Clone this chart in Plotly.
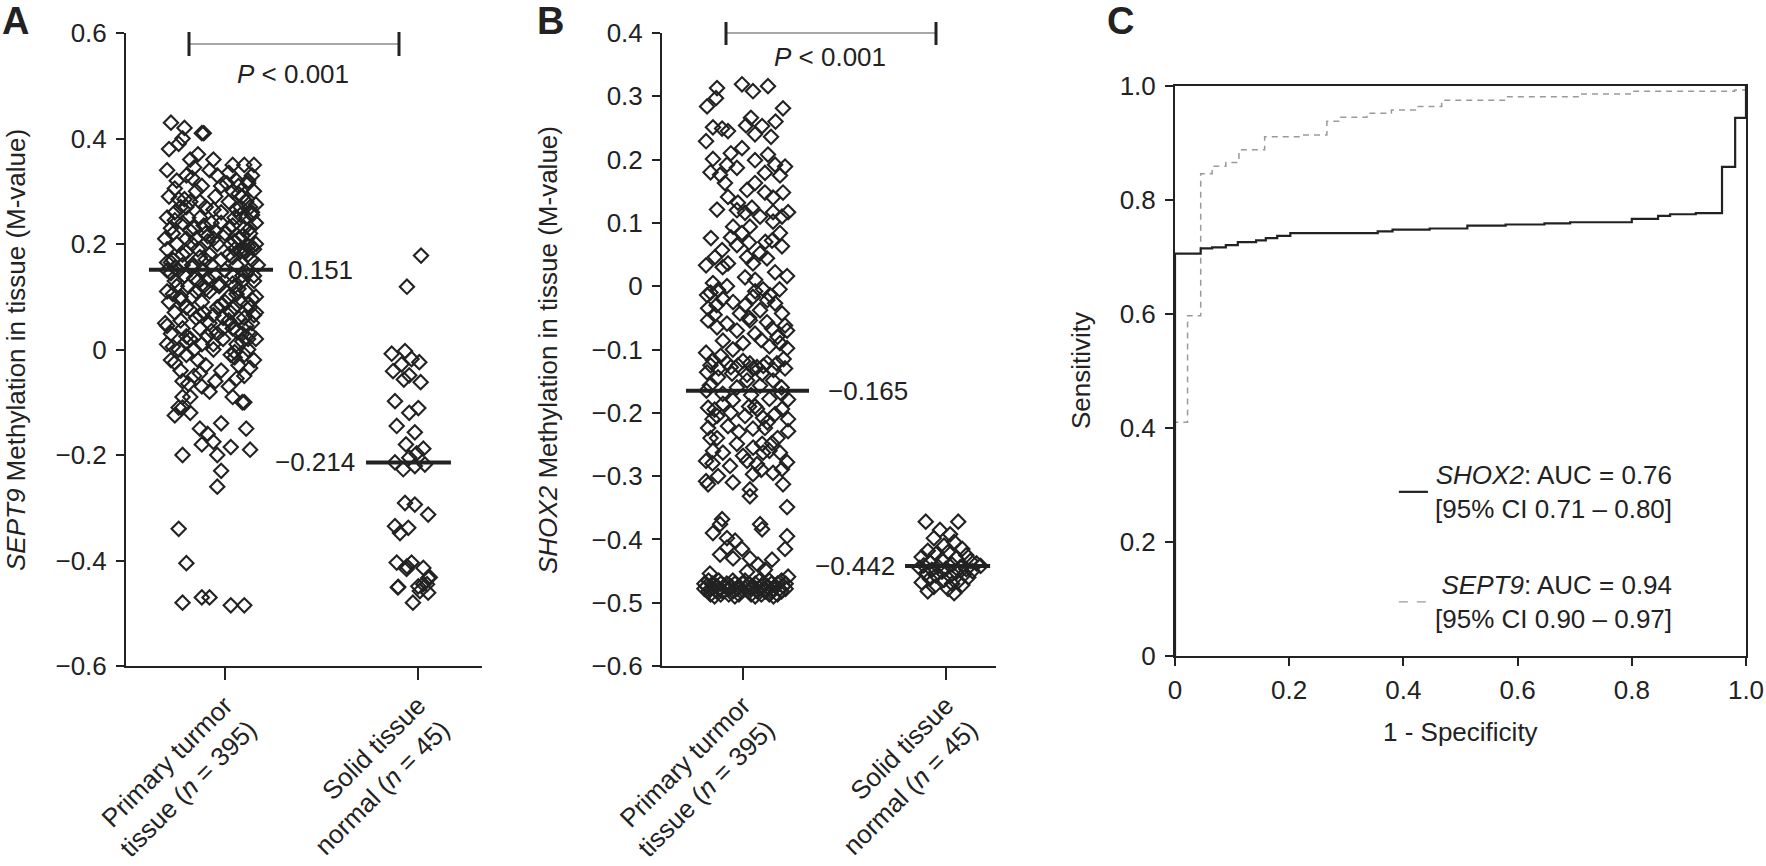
import plotly.graph_objects as go

# ---------------- data ----------------
groups = ["Primary turmor<br>tissue (<i>n</i> = 395)", "Solid tissue<br>normal (<i>n</i> = 45)"]

# panel A : SEPT9 M-values, dx = horizontal jitter around the group position
a_tumor_y = [
    0.43, 0.42, 0.41, 0.41, 0.40, 0.39, 0.38, 0.37, 0.36, 0.35,
    0.35, 0.34, 0.34, 0.33, 0.33, 0.32, 0.32, 0.31, 0.31, 0.30,
    0.30, 0.29, 0.29, 0.28, 0.28, 0.28, 0.27, 0.27, 0.26, 0.26,
    0.26, 0.25, 0.25, 0.25, 0.24, 0.24, 0.24, 0.23, 0.23, 0.23,
    0.22, 0.22, 0.22, 0.21, 0.21, 0.21, 0.20, 0.20, 0.20, 0.20,
    0.19, 0.19, 0.19, 0.18, 0.18, 0.18, 0.17, 0.17, 0.17, 0.16,
    0.16, 0.16, 0.15, 0.15, 0.15, 0.15, 0.14, 0.14, 0.14, 0.13,
    0.13, 0.13, 0.12, 0.12, 0.12, 0.11, 0.11, 0.11, 0.10, 0.10,
    0.10, 0.09, 0.09, 0.09, 0.08, 0.08, 0.08, 0.07, 0.07, 0.07,
    0.06, 0.06, 0.06, 0.05, 0.05, 0.05, 0.04, 0.04, 0.04, 0.03,
    0.03, 0.03, 0.02, 0.02, 0.02, 0.01, 0.01, 0.01, 0.00, 0.00,
    0.00, -0.01, -0.01, -0.02, -0.02, -0.03, -0.03, -0.04, -0.04, -0.05,
    -0.05, -0.06, -0.06, -0.07, -0.07, -0.08, -0.09, -0.09, -0.10, -0.11,
    -0.09, -0.10, -0.11, -0.12, -0.125, -0.14, -0.15, -0.15, -0.16, -0.175,
    -0.18, -0.185, -0.19, -0.20, -0.20, -0.23, -0.26, -0.34, -0.405, -0.48,
    -0.47, -0.47, -0.485, -0.485, 0.36, 0.35, 0.30, 0.27, 0.19, 0.12,
    0.33, 0.31, 0.29, 0.27, 0.25, 0.23, 0.21, 0.19, 0.17, 0.15,
    0.14, 0.12, 0.10, 0.08, 0.06, 0.04, 0.02, 0.00, 0.25, 0.21,
    0.32, 0.28, 0.24, 0.20, 0.16, 0.13, 0.09, 0.05, 0.01, -0.02,
    0.18, 0.16, 0.14, 0.11, 0.07, 0.03, -0.01, 0.23, 0.27, 0.22,
    0.345, 0.315, 0.285, 0.255, 0.225, 0.195, 0.165, 0.135, 0.105, 0.075,
    0.045, 0.015, -0.015, 0.215, 0.185, 0.155, 0.125, 0.095, 0.065, 0.035,
    0.005, 0.025, 0.035, 0.055, 0.065, 0.085, 0.105, 0.115, 0.135, 0.145,
    0.165, 0.175, 0.185, 0.195, 0.205, 0.215, 0.225, 0.235, 0.245, 0.255,
    0.265, 0.275, 0.285, 0.295, 0.305, 0.315, 0.325, 0.335, 0.265, 0.235,
    0.205, 0.175, 0.145, 0.115, 0.085, 0.055, 0.025, -0.005, -0.025, -0.035,
    -0.045, -0.055, -0.065, 0.155, 0.125, 0.095, 0.065, 0.045, 0.015, 0.185,
]
a_tumor_dx = [
    -0.28, -0.21, -0.12, -0.11, -0.22, -0.24, -0.29, -0.14, -0.18, 0.04,
    0.10, -0.30, -0.08, 0.14, -0.20, -0.25, 0.12, -0.02, 0.07, -0.15,
    0.15, -0.29, -0.05, 0.02, 0.11, -0.18, -0.10, 0.08, -0.26, 0.14,
    -0.02, -0.30, -0.13, 0.05, 0.16, -0.22, -0.07, 0.10, -0.28, -0.16,
    0.00, 0.13, -0.10, -0.31, -0.20, 0.07, -0.25, -0.04, 0.03, 0.16,
    -0.14, -0.30, 0.10, -0.22, 0.02, -0.08, 0.14, -0.27, -0.02, -0.17,
    0.06, 0.17, -0.30, -0.11, 0.00, 0.12, -0.21, -0.05, 0.09, -0.26,
    -0.14, 0.15, -0.03, 0.05, -0.19, 0.11, -0.30, -0.08, -0.23, 0.02,
    0.16, -0.12, 0.08, -0.29, 0.13, -0.04, -0.20, -0.26, 0.03, 0.16,
    -0.15, -0.01, 0.10, -0.31, -0.08, 0.14, -0.22, 0.04, -0.13, -0.28,
    0.09, -0.04, 0.16, -0.18, -0.01, -0.30, 0.06, -0.12, -0.24, 0.12,
    -0.06, -0.20, 0.03, -0.28, 0.15, -0.10, 0.07, -0.23, -0.02, 0.10,
    -0.16, -0.05, -0.22, 0.02, -0.12, -0.08, -0.18, 0.04, 0.10, -0.24,
    -0.22, 0.09, -0.22, -0.18, -0.26, -0.02, -0.13, 0.11, -0.09, -0.06,
    -0.12, 0.03, 0.13, -0.22, -0.04, -0.02, -0.04, -0.24, -0.20, -0.22,
    -0.12, -0.08, 0.03, 0.10, -0.06, 0.15, 0.04, -0.23, 0.05, -0.11,
    -0.04, -0.12, 0.09, -0.20, 0.11, 0.02, -0.15, 0.15, -0.10, -0.24,
    0.04, -0.25, -0.17, 0.05, 0.07, -0.01, 0.12, -0.16, -0.19, -0.06,
    0.06, -0.13, -0.02, -0.17, -0.07, 0.09, 0.00, 0.03, -0.06, -0.14,
    0.12, -0.22, 0.15, -0.15, -0.11, 0.13, 0.10, 0.13, 0.13, -0.27,
    -0.16, 0.01, -0.24, 0.08, -0.05, 0.12, -0.28, -0.09, 0.06, -0.18,
    0.11, -0.20, 0.05, -0.09, 0.08, -0.26, -0.03, 0.14, -0.13, -0.07,
    -0.27, -0.09, 0.06, -0.23, 0.15, -0.02, -0.27, 0.07, -0.16, 0.11,
    -0.30, 0.04, -0.20, 0.14, -0.09, 0.09, -0.18, 0.04, -0.26, 0.14,
    -0.06, 0.16, -0.21, 0.07, -0.26, 0.12, -0.17, 0.02, 0.06, -0.11,
    0.05, -0.13, -0.28, -0.10, 0.12, 0.02, -0.20, 0.05, -0.26, 0.13,
    -0.13, 0.06, -0.19, -0.17, 0.04, -0.23, -0.06, -0.30, 0.09, 0.10,
]
a_normal_y = [
    0.178, 0.119, -0.008, -0.003, -0.018, -0.024, -0.041, -0.028, -0.049, -0.057,
    -0.062, -0.098, -0.111, -0.120, -0.145, -0.157, -0.180, -0.188, -0.197, -0.214,
    -0.227, -0.221, -0.218, -0.205, -0.291, -0.294, -0.313, -0.335, -0.338, -0.348,
    -0.404, -0.404, -0.414, -0.416, -0.433, -0.450, -0.449, -0.445, -0.461, -0.451,
    -0.480, -0.458, -0.445, -0.411, -0.432,
]
a_normal_dx = [
    0.016, -0.057, -0.136, -0.067, -0.033, 0.007, -0.129, -0.085, -0.045, -0.073,
    0.014, -0.119, 0.002, -0.045, -0.110, -0.016, -0.062, 0.028, -0.007, -0.119,
    -0.076, -0.016, 0.036, -0.045, -0.067, -0.016, 0.053, -0.119, -0.050, -0.093,
    -0.110, -0.033, 0.028, -0.059, 0.053, -0.102, 0.002, 0.028, 0.053, -0.104,
    -0.026, 0.010, 0.047, -0.057, 0.062,
]
a_medians = [0.151, -0.214]

# panel B : SHOX2 M-values
b_tumor_y = [
    0.313, 0.284, 0.297, 0.319, 0.308, 0.316, 0.281, 0.251, 0.249, 0.245,
    0.229, 0.266, 0.254, 0.253, 0.240, 0.236, 0.218, 0.201, 0.192, 0.187,
    0.199, 0.208, 0.192, 0.189, 0.179, 0.175, 0.176, 0.163, 0.141, 0.152,
    0.163, 0.148, 0.140, 0.148, 0.121, 0.132, 0.116, 0.124, 0.110, 0.117,
    0.110, 0.117, 0.094, 0.084, 0.094, 0.102, 0.084, 0.076, 0.077, 0.065,
    0.069, 0.072, 0.063, 0.046, 0.057, 0.036, 0.046, 0.036, 0.052, 0.044,
    0.033, 0.014, 0.022, 0.016, 0.005, -0.014, -0.006, 0.000, -0.005, -0.014,
    -0.025, -0.030, -0.017, -0.035, -0.043, -0.038, -0.027, -0.043, -0.054, -0.059,
    -0.054, -0.057, -0.062, -0.065, -0.070, -0.075, -0.067, -0.070, -0.086, -0.090,
    -0.090, -0.105, -0.098, -0.117, -0.121, -0.125, -0.122, -0.128, -0.121, -0.122,
    -0.130, -0.136, -0.144, -0.138, -0.149, -0.138, -0.149, -0.157, -0.160, -0.157,
    -0.179, -0.194, -0.192, -0.186, -0.205, -0.205, -0.194, -0.208, -0.202, -0.210,
    -0.224, -0.221, -0.225, -0.224, -0.229, -0.240, -0.249, -0.249, -0.248, -0.260,
    -0.263, -0.268, -0.263, -0.263, -0.276, -0.276, -0.281, -0.278, -0.300, -0.284,
    -0.297, -0.295, -0.289, -0.308, -0.313, -0.313, -0.321, -0.332, -0.349, -0.368,
    -0.376, -0.390, -0.376, -0.384, -0.395, -0.398, -0.402, -0.413, -0.424, -0.415,
    -0.415, -0.430, -0.430, -0.432, -0.440, -0.454, -0.459, -0.448, -0.451,
    -0.125, -0.130, -0.128, -0.118, -0.130, -0.126, -0.132, -0.115, -0.165, -0.170,
    -0.180, -0.172, -0.178, -0.170, -0.195, -0.200, -0.190, -0.215, -0.010, -0.020,
    -0.008, -0.022, -0.005, -0.045, -0.085, -0.100, -0.095, -0.240, -0.255, -0.240,
    0.180, 0.120, 0.070, 0.030, 0.010, -0.030, -0.080, -0.110, -0.140, -0.160,
    -0.190, -0.210, -0.230, -0.260, -0.280, -0.290, -0.310, 0.210, 0.260, -0.050,
    -0.465, -0.465, -0.465, -0.465, -0.465, -0.465, -0.465,
    -0.470, -0.470, -0.470, -0.470, -0.470, -0.470, -0.470, -0.470, -0.470, -0.470, -0.470, -0.470,
    -0.474, -0.474, -0.474, -0.474, -0.474, -0.474, -0.474, -0.474, -0.474, -0.474, -0.474,
    -0.478, -0.478, -0.478, -0.478, -0.478, -0.478, -0.478, -0.478, -0.478, -0.478, -0.478, -0.478,
    -0.482, -0.482, -0.482, -0.482, -0.482, -0.482, -0.482, -0.482, -0.482, -0.482,
    -0.487, -0.487, -0.487, -0.487, -0.487, -0.487, -0.487, -0.487,
    -0.490, -0.490, -0.490, -0.490,
]
b_tumor_dx = [
    -0.128, -0.177, -0.133, -0.005, 0.049, 0.123, 0.197, -0.148, -0.103, -0.074,
    -0.182, 0.039, 0.015, 0.094, 0.059, 0.138, -0.005, -0.148, -0.079, -0.030,
    0.059, 0.123, 0.158, 0.207, 0.108, 0.182, -0.113, -0.089, -0.074, 0.020,
    0.059, 0.108, 0.148, 0.197, -0.128, -0.025, 0.010, 0.044, 0.084, 0.148,
    0.192, 0.222, -0.049, -0.005, 0.034, 0.148, 0.182, -0.158, -0.059, -0.030,
    0.030, 0.143, 0.192, -0.138, -0.103, -0.074, 0.020, 0.049, 0.084, 0.118,
    -0.182, 0.010, 0.158, 0.217, -0.148, -0.177, -0.123, -0.079, 0.099, 0.133,
    -0.049, 0.010, 0.049, -0.172, -0.015, 0.084, 0.158, 0.192, -0.172, -0.079,
    0.034, 0.118, 0.207, -0.128, -0.030, 0.059, 0.143, 0.217, -0.099, 0.000,
    0.182, -0.182, 0.217, -0.148, -0.079, -0.025, 0.034, 0.069, 0.118, 0.167,
    0.207, -0.177, -0.123, -0.054, 0.020, 0.094, 0.148, -0.163, -0.030, 0.084,
    0.222, 0.192, -0.172, -0.099, -0.128, 0.010, 0.069, 0.099, 0.158, 0.222,
    -0.172, -0.074, 0.049, 0.108, 0.222, -0.128, -0.030, 0.094, 0.143, -0.148,
    -0.099, 0.000, 0.099, 0.182, -0.182, 0.020, 0.069, 0.217, -0.123, -0.064,
    0.049, 0.148, 0.192, -0.182, -0.172, 0.197, 0.034, 0.034, 0.217, -0.103,
    -0.113, -0.148, 0.084, 0.094, 0.217, -0.079, -0.039, -0.079, -0.113, -0.005,
    0.207, -0.049, 0.034, 0.143, 0.074, -0.163, 0.222, 0.108, 0.020,
    -0.160, -0.120, -0.060, 0.000, 0.050, 0.100, 0.150, 0.200, -0.180, -0.100,
    -0.050, 0.040, 0.130, 0.190, -0.140, -0.060, 0.030, 0.120, -0.160, -0.100,
    0.060, 0.120, 0.180, -0.140, 0.090, -0.050, 0.130, -0.160, 0.050, 0.170,
    -0.160, -0.030, 0.110, -0.100, 0.060, -0.130, 0.170, -0.110, 0.020, 0.190,
    0.060, -0.150, -0.020, 0.130, -0.150, 0.090, -0.050, -0.060, 0.160, 0.030,
    -0.17, -0.12, -0.05, 0.01, 0.08, 0.13, 0.19,
    -0.19, -0.15, -0.11, -0.08, -0.04, 0.00, 0.03, 0.06, 0.10, 0.14, 0.17, 0.21,
    -0.18, -0.13, -0.09, -0.06, -0.02, 0.02, 0.05, 0.09, 0.12, 0.16, 0.20,
    -0.19, -0.16, -0.12, -0.07, -0.03, 0.01, 0.04, 0.08, 0.11, 0.15, 0.18, 0.21,
    -0.17, -0.13, -0.10, -0.05, -0.01, 0.03, 0.07, 0.11, 0.14, 0.19,
    -0.16, -0.11, -0.07, -0.02, 0.04, 0.09, 0.13, 0.17,
    -0.14, -0.04, 0.06, 0.15,
]
b_normal_y = [
    -0.372, -0.372, -0.385, -0.392, -0.398, -0.404, -0.410, -0.415, -0.418, -0.420,
    -0.423, -0.425, -0.428, -0.430, -0.432, -0.434, -0.436, -0.438, -0.440, -0.441,
    -0.442, -0.443, -0.444, -0.445, -0.446, -0.447, -0.448, -0.450, -0.451, -0.452,
    -0.454, -0.455, -0.457, -0.458, -0.460, -0.462, -0.464, -0.466, -0.468, -0.470,
    -0.472, -0.475, -0.478, -0.482, -0.485,
]
b_normal_dx = [
    -0.10, 0.06, -0.03, 0.02, -0.06, 0.04, -0.01, 0.08, -0.09, 0.01,
    -0.05, 0.10, -0.12, 0.05, -0.02, 0.12, -0.08, 0.15, 0.03, -0.11,
    0.17, -0.04, 0.07, -0.13, 0.00, 0.10, -0.07, 0.13, -0.02, 0.05,
    -0.10, 0.09, -0.05, 0.02, 0.11, -0.08, -0.01, 0.06, -0.12, 0.03,
    0.08, -0.06, 0.01, -0.09, 0.04,
]
b_medians = [-0.165, -0.442]

# panel C : ROC curves (step functions)
shox2_fpr = [0, 0, 0.045, 0.065, 0.089, 0.110, 0.142, 0.159, 0.179, 0.202, 0.355, 0.381,
             0.446, 0.512, 0.579, 0.647, 0.692, 0.800, 0.846, 0.867, 0.912, 0.958, 0.981, 1.0]
shox2_tpr = [0, 0.706, 0.715, 0.717, 0.721, 0.726, 0.729, 0.733, 0.737, 0.742, 0.745, 0.748,
             0.750, 0.755, 0.757, 0.759, 0.761, 0.767, 0.772, 0.775, 0.777, 0.858, 0.944, 1.0]
sept9_fpr = [0, 0, 0.022, 0.045, 0.065, 0.089, 0.112, 0.157, 0.224, 0.266, 0.290, 0.336,
             0.379, 0.423, 0.467, 0.579, 0.710, 0.800, 0.980, 1.0]
sept9_tpr = [0, 0.41, 0.597, 0.846, 0.859, 0.866, 0.888, 0.911, 0.914, 0.938, 0.945, 0.952,
             0.958, 0.964, 0.975, 0.981, 0.986, 0.991, 0.993, 1.0]
shox2_text = "<i>SHOX2</i>: AUC = 0.76<br>[95% CI 0.71 – 0.80]"
sept9_text = "<i>SEPT9</i>: AUC = 0.94<br>[95% CI 0.90 – 0.97]"

# ---------------- styling ----------------
W, H = 1766, 866
INK = "#222222"
FONT = "Liberation Sans, Arial, Helvetica, sans-serif"


def px(x):
    return x / W


def py(y):
    return 1 - y / H


def minus(v):
    s = f"{v:g}" if v != 0 else "0"
    return s.replace("-", "\u2212")


def fmt_median(v):
    return f"{v:.3f}".replace("-", "\u2212")


def dots(dx, y, cat, xa, ya):
    return go.Scatter(
        x=[cat + d for d in dx], y=y, mode="markers", xaxis=xa, yaxis=ya,
        marker=dict(symbol="diamond-open", size=11, color=INK, line=dict(width=2.1, color=INK)),
        hoverinfo="skip", showlegend=False,
    )


fig = go.Figure()
fig.add_trace(dots(a_tumor_dx, a_tumor_y, 0, "x", "y"))
fig.add_trace(dots(a_normal_dx, a_normal_y, 1, "x", "y"))
fig.add_trace(dots(b_tumor_dx, b_tumor_y, 0, "x2", "y2"))
fig.add_trace(dots(b_normal_dx, b_normal_y, 1, "x2", "y2"))

fig.add_trace(go.Scatter(x=sept9_fpr, y=sept9_tpr, mode="lines", line_shape="hv", xaxis="x3", yaxis="y3",
                         line=dict(color="#9a9a9a", width=1.5, dash="6px,5px"), showlegend=False))
fig.add_trace(go.Scatter(x=shox2_fpr, y=shox2_tpr, mode="lines", line_shape="hv", xaxis="x3", yaxis="y3",
                         line=dict(color=INK, width=2.2), showlegend=False))

yd = [py(666), py(33)]
axis_common = dict(showline=True, linewidth=2, linecolor=INK, showgrid=False, zeroline=False, automargin=False,
                   ticks="outside", tickwidth=2, tickcolor=INK, tickfont=dict(size=26, color=INK, family=FONT))

a_ticks = [-0.6, -0.4, -0.2, 0, 0.2, 0.4, 0.6]
b_ticks = [-0.6, -0.5, -0.4, -0.3, -0.2, -0.1, 0, 0.1, 0.2, 0.3, 0.4]
c_ticks = [0, 0.2, 0.4, 0.6, 0.8, 1.0]
c_labels = ["0", "0.2", "0.4", "0.6", "0.8", "1.0"]

fig.update_layout(
    template="none",
    width=W, height=H, margin=dict(l=0, r=0, t=0, b=0, autoexpand=False),
    paper_bgcolor="white", plot_bgcolor="white", showlegend=False,
    font=dict(family=FONT, color=INK, size=26),
    xaxis=dict(axis_common, domain=[px(126), px(482)], range=[-0.513, 1.332], tickvals=[0, 1],
               ticktext=groups, tickangle=-45, ticklen=12, anchor="y"),
    yaxis=dict(axis_common, domain=yd, range=[-0.6, 0.6], tickvals=a_ticks,
               ticktext=[minus(v) for v in a_ticks], ticklen=8, anchor="x", ticklabelstandoff=4),
    xaxis2=dict(axis_common, domain=[px(662), px(996)], range=[-0.399, 1.246], tickvals=[0, 1],
                ticktext=groups, tickangle=-45, ticklen=12, anchor="y2"),
    yaxis2=dict(axis_common, domain=yd, range=[-0.6, 0.4], tickvals=b_ticks,
                ticktext=[minus(v) for v in b_ticks], ticklen=8, anchor="x2", ticklabelstandoff=4),
    xaxis3=dict(axis_common, domain=[px(1175), px(1746)], range=[0, 1], tickvals=c_ticks,
                ticktext=c_labels, ticklen=8, mirror=True, anchor="y3", ticklabelstandoff=2),
    yaxis3=dict(axis_common, domain=[py(656), py(86)], range=[0, 1], tickvals=c_ticks,
                ticktext=c_labels, ticklen=8, mirror=True, anchor="x3", ticklabelstandoff=4),
)

shapes = []
ann = []

# median lines + labels
for xa, ya, meds, spans, lab in [
    ("x", "y", a_medians, [(-0.394, 0.249), (-0.269, 0.171)], [(0.316, "left"), (0.684, "right")]),
    ("x2", "y2", b_medians, [(-0.281, 0.325), (-0.202, 0.217)], [(0.41, "left"), (0.76, "right")]),
]:
    for i, m in enumerate(meds):
        x0, x1 = spans[i]
        shapes.append(dict(type="line", xref=xa, yref=ya, x0=i + x0, x1=i + x1, y0=m, y1=m,
                           line=dict(color=INK, width=4)))
        ann.append(dict(xref=xa, yref=ya, x=lab[i][0], y=m, text=fmt_median(m), showarrow=False,
                        xanchor=lab[i][1], yanchor="middle", font=dict(size=26)))

# significance brackets
for (xl, xr, yl, ycap0, ycap1, tx, ty) in [
    (189, 399, 44, 32, 56, 293, 74),
    (726, 936, 33, 22, 45, 830, 57),
]:
    shapes.append(dict(type="line", xref="paper", yref="paper", x0=px(xl), x1=px(xr), y0=py(yl), y1=py(yl),
                       line=dict(color="#8a8a8a", width=1.3)))
    for xc in (xl, xr):
        shapes.append(dict(type="line", xref="paper", yref="paper", x0=px(xc), x1=px(xc),
                           y0=py(ycap0), y1=py(ycap1), line=dict(color=INK, width=3)))
    ann.append(dict(xref="paper", yref="paper", x=px(tx), y=py(ty), text="<i>P</i> < 0.001",
                    showarrow=False, xanchor="center", yanchor="middle", font=dict(size=26)))

# ROC legend
for seg_y, txt, col, dash, w in [(0.288, shox2_text, INK, "solid", 2.2), (0.095, sept9_text, "#9a9a9a", "dash", 1.3)]:
    shapes.append(dict(type="line", xref="x3", yref="y3", x0=0.392, x1=0.443, y0=seg_y, y1=seg_y,
                       line=dict(color=col, width=w, dash=dash)))
    ann.append(dict(xref="x3", yref="y3", x=0.874, y=seg_y, text=txt, showarrow=False, align="right",
                    xanchor="right", yanchor="middle", font=dict(size=26)))

# axis titles and panel letters
ann += [
    dict(xref="paper", yref="paper", x=px(16), y=py(350), text="<i>SEPT9</i> Methylation in tissue (M-value)",
         textangle=-90, showarrow=False, xanchor="center", yanchor="middle", font=dict(size=26)),
    dict(xref="paper", yref="paper", x=px(548), y=py(350), text="<i>SHOX2</i> Methylation in tissue (M-value)",
         textangle=-90, showarrow=False, xanchor="center", yanchor="middle", font=dict(size=26)),
    dict(xref="paper", yref="paper", x=px(1081), y=py(371), text="Sensitivity",
         textangle=-90, showarrow=False, xanchor="center", yanchor="middle", font=dict(size=26)),
    dict(xref="paper", yref="paper", x=px(1460), y=py(732), text="1 - Specificity",
         showarrow=False, xanchor="center", yanchor="middle", font=dict(size=26)),
    dict(xref="paper", yref="paper", x=px(0), y=py(-2), text="<b>A</b>", showarrow=False,
         xanchor="left", yanchor="top", font=dict(size=38)),
    dict(xref="paper", yref="paper", x=px(535), y=py(-2), text="<b>B</b>", showarrow=False,
         xanchor="left", yanchor="top", font=dict(size=38)),
    dict(xref="paper", yref="paper", x=px(1105), y=py(-2), text="<b>C</b>", showarrow=False,
         xanchor="left", yanchor="top", font=dict(size=38)),
]

fig.update_layout(shapes=shapes, annotations=ann)

# page has a default 8px body margin; drop it so the 1766x866 figure fills the window
fig.write_html("out.html", config={"displayModeBar": False},
               post_script="document.body.style.margin='0';document.body.style.overflow='hidden';")
